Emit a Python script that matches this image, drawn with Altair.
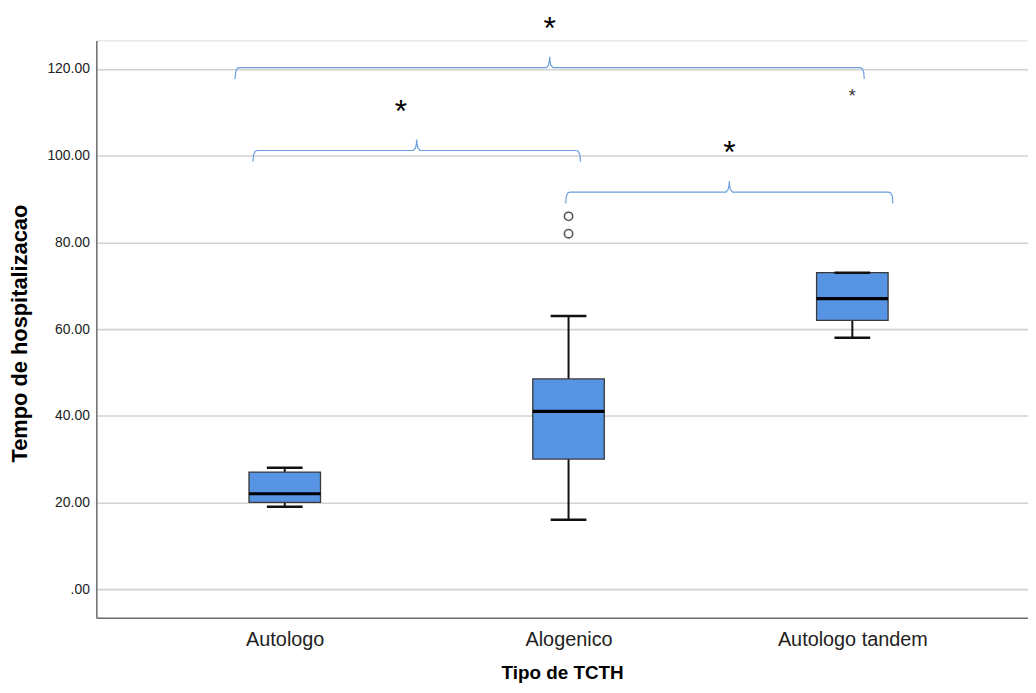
import json
import altair as alt
import pandas as pd

# ---------------- data ----------------
categories = ["Autologo", "Alogenico", "Autologo tandem"]
whisker_low = [19, 16, 58]
q1 = [20, 30, 62]
median = [22, 41, 67]
q3 = [27, 48.5, 73]
whisker_high = [28, 63, 73]

outlier_group = [1, 1]          # index into categories (open circles)
outlier_values = [82, 86]
extreme_group = [2]             # index into categories (star)
extreme_values = [115]

# significance brackets (x in category-index units, y in data units)
bracket_start = [-0.175, -0.112, 0.99]
bracket_end = [2.042, 1.042, 2.143]
bracket_level = [120.3, 101.2, 91.6]
bracket_label = ["*", "*", "*"]
label_shift = [0.0, -0.056, 0.0]

y_ticks = [0, 20, 40, 60, 80, 100, 120]

# ---------------- style ----------------
BOX_HALF = 0.126
CAP_HALF = 0.063
FILL = "#5795e4"
BRACKET_COLOR = "#6a9fdc"
FONT = "Liberation Sans"

W, H = 939, 582

box_df = pd.DataFrame({
    "idx": list(range(len(categories))),
    "cat": categories,
    "lo": whisker_low, "q1": q1, "med": median, "q3": q3, "hi": whisker_high,
})
out_df = pd.DataFrame({"idx": outlier_group, "v": outlier_values})
ext_df = pd.DataFrame({"idx": extreme_group, "v": extreme_values})

# bracket paths built from the bracket arrays
DROP, RISE = 2.6, 2.5
rows = []
for b, (x0, x1, lv) in enumerate(zip(bracket_start, bracket_end, bracket_level)):
    xc = (x0 + x1) / 2
    pts = [
        (x0, lv - DROP), (x0 + 0.002, lv - 1.0), (x0 + 0.008, lv - 0.15), (x0 + 0.016, lv),
        (xc - 0.012, lv), (xc - 0.004, lv + 0.6), (xc - 0.001, lv + 1.6), (xc, lv + RISE),
        (xc + 0.001, lv + 1.6), (xc + 0.004, lv + 0.6), (xc + 0.012, lv),
        (x1 - 0.016, lv), (x1 - 0.008, lv - 0.15), (x1 - 0.002, lv - 1.0), (x1, lv - DROP),
    ]
    for k, (px, py) in enumerate(pts):
        rows.append({"b": b, "k": k, "x": px, "y": py})
br_df = pd.DataFrame(rows)
star_df = pd.DataFrame({
    "x": [(a + c) / 2 + s for a, c, s in zip(bracket_start, bracket_end, label_shift)],
    "y": [lv + 10.8 for lv in bracket_level],
    "t": bracket_label,
})

# ---------------- scales / axes ----------------
x_scale = alt.Scale(domain=[-0.664, 2.619], nice=False, zero=False)
y_scale = alt.Scale(domain=[-6.64, 126.6], nice=False, zero=False)

x_axis = alt.Axis(
    values=[0, 1, 2],
    labelExpr=json.dumps(categories) + "[datum.value]",
    grid=False, ticks=False, labelPadding=12,
    labelFont=FONT, labelFontSize=20, labelColor="#222222",
    domainColor="#6e6e6e", domainWidth=1.5,
    title="Tipo de TCTH", titleFont=FONT, titleFontSize=19, titleFontWeight="bold",
    titleColor="#000000", titleY=61, titleBaseline="alphabetic",
)
y_axis = alt.Axis(
    values=y_ticks,
    labelExpr="datum.value == 0 ? '.00' : format(datum.value, '.2f')",
    grid=True, gridColor="#d2d2d2", gridWidth=1.6,
    ticks=False, labelPadding=7,
    labelFont=FONT, labelFontSize=14, labelColor="#222222",
    domainColor="#6e6e6e", domainWidth=1.5,
    title="Tempo de hospitalizacao", titleFont=FONT, titleFontSize=22, titleFontWeight="bold",
    titleColor="#000000", titleAngle=270, titleX=-77, titleY=H / 2 + 4,
    titleAlign="center", titleBaseline="middle",
)


def X(field):
    return alt.X(field, type="quantitative", scale=x_scale, axis=x_axis)


def Y(field):
    return alt.Y(field, type="quantitative", scale=y_scale, axis=y_axis)


box_base = alt.Chart(box_df).transform_calculate(
    xl=f"datum.idx - {BOX_HALF}", xr=f"datum.idx + {BOX_HALF}",
    cl=f"datum.idx - {CAP_HALF}", cr=f"datum.idx + {CAP_HALF}",
)

brackets = alt.Chart(br_df).mark_line(color=BRACKET_COLOR, strokeWidth=1.2).encode(
    x=X("x"), y=Y("y"), detail="b:N", order="k:Q"
)

whisk_up = box_base.mark_rule(color="#111111", strokeWidth=2).encode(
    x=X("idx"), y=Y("q3"), y2="hi"
)
whisk_dn = box_base.mark_rule(color="#111111", strokeWidth=2).encode(
    x=X("idx"), y=Y("lo"), y2="q1"
)
boxes = box_base.mark_rect(fill=FILL, stroke="#3a3a3a", strokeWidth=1.3).encode(
    x=X("xl:Q"), x2="xr:Q", y=Y("q1"), y2="q3"
)
medians = box_base.mark_rule(color="#000000", strokeWidth=3.2).encode(
    x=X("xl:Q"), x2="xr:Q", y=Y("med")
)
cap_hi = box_base.mark_rule(color="#111111", strokeWidth=2.6).encode(
    x=X("cl:Q"), x2="cr:Q", y=Y("hi")
)
cap_lo = box_base.mark_rule(color="#111111", strokeWidth=2.6).encode(
    x=X("cl:Q"), x2="cr:Q", y=Y("lo")
)
outliers = alt.Chart(out_df).mark_point(
    shape="circle", filled=False, color="#555555", strokeWidth=1.6, size=70, opacity=1
).encode(x=X("idx"), y=Y("v"))
extremes = alt.Chart(ext_df).mark_text(
    text="*", font=FONT, fontSize=18, color="#333333", baseline="alphabetic", dy=11
).encode(x=X("idx"), y=Y("v"))
stars = alt.Chart(star_df).mark_text(
    font=FONT, fontSize=32, color="#000000", baseline="alphabetic", dy=18
).encode(x=X("x"), y=Y("y"), text="t:N")

chart = alt.layer(
    brackets, whisk_up, whisk_dn, boxes, medians, cap_hi, cap_lo, outliers, extremes, stars
).properties(
    width=W, height=H,
    autosize=alt.AutoSizeParams(type="none"),
    padding={"left": 89, "top": 30, "right": 0, "bottom": 65},
).configure_view(stroke=None).configure(background="#ffffff")

chart.save("out.html", embed_options={"renderer": "svg", "actions": False})
